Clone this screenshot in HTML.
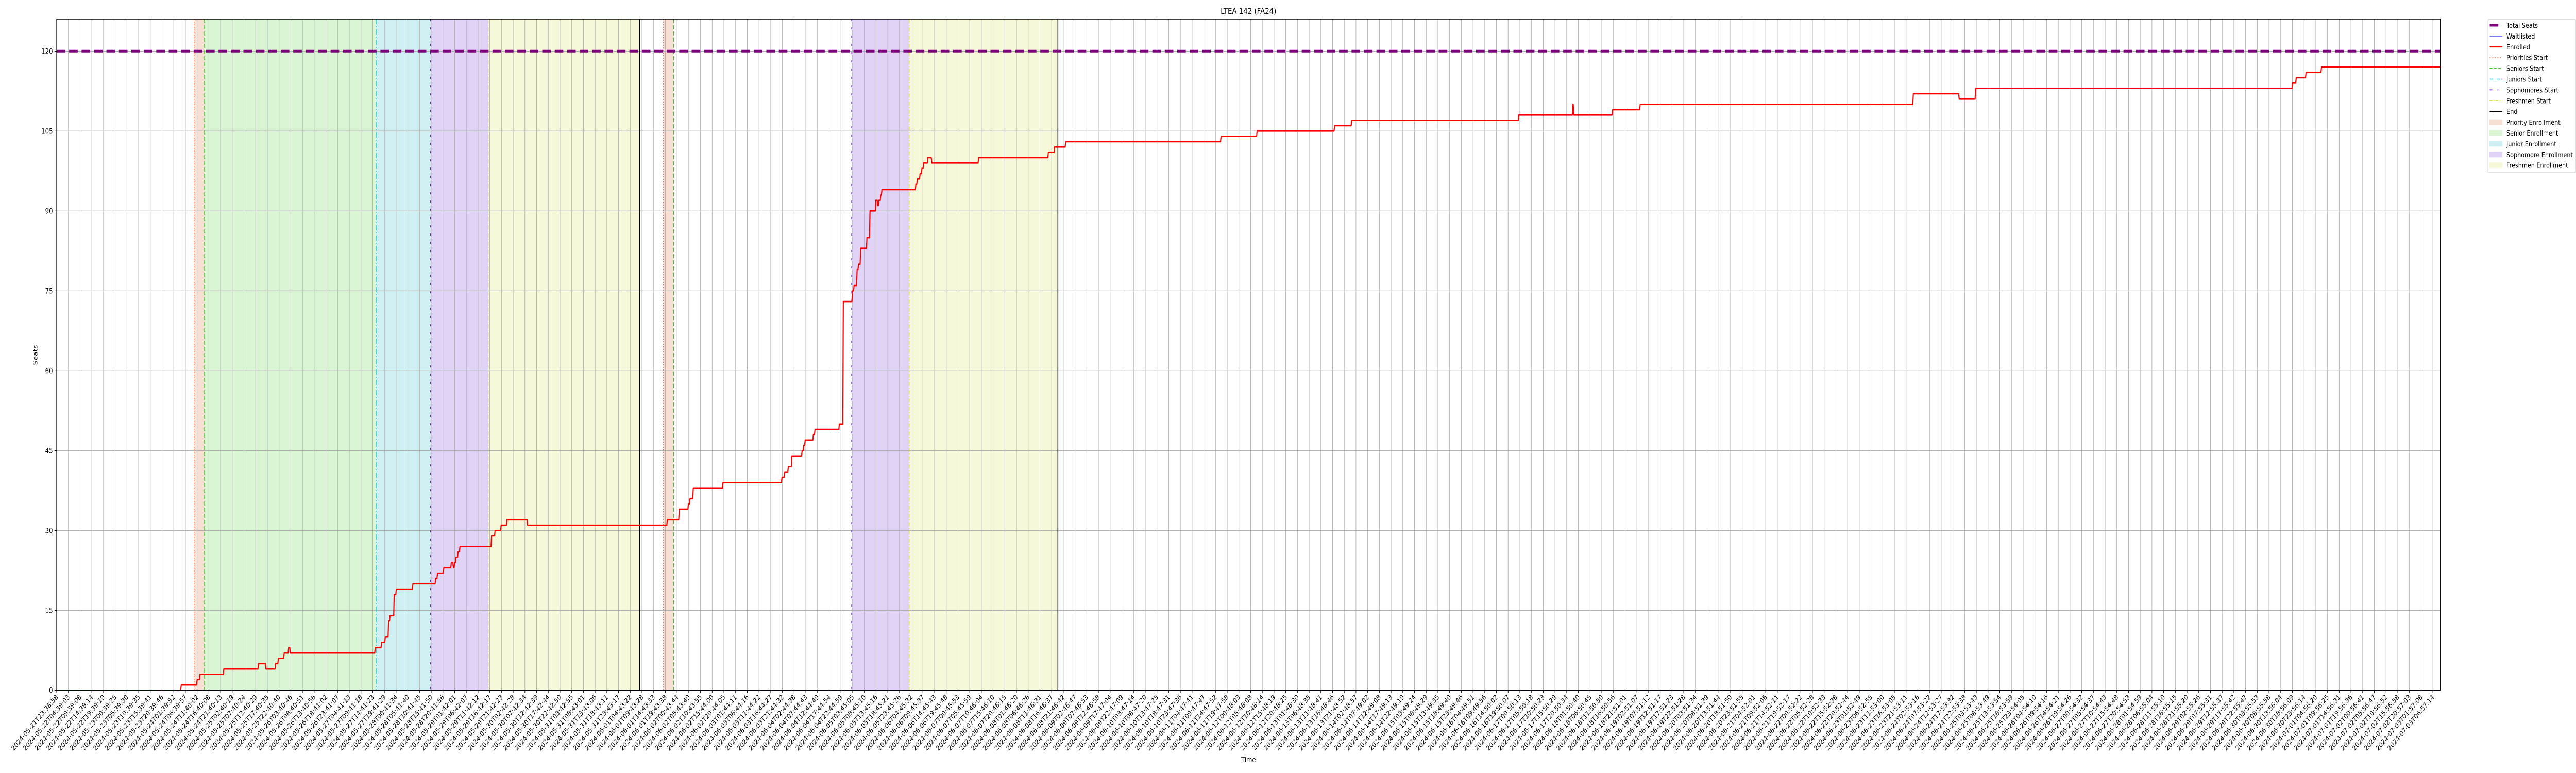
<!DOCTYPE html>
<html><head><meta charset="utf-8"><title>LTEA 142 (FA24)</title>
<style>
html,body{margin:0;padding:0;background:#fff;width:100%;height:100%;overflow:hidden;}
svg{display:block;width:100vw;height:100vh;overflow:hidden;font-family:"DejaVu Sans","Liberation Sans",sans-serif;}
</style></head>
<body>
<svg id="chart" viewBox="0 0 6000 1500" preserveAspectRatio="none" xmlns="http://www.w3.org/2000/svg">
  <rect x="0" y="0" width="6000" height="1500" fill="#fff"/>
  <g id="shading"></g>
  <g id="grid"></g>
  <g id="events"></g>
  <g id="series"></g>
  <g id="axes"></g>
  <text x="2908" y="27" font-size="16" text-anchor="middle">LTEA 142 (FA24)</text>
  <text x="2908" y="1479" font-size="14" text-anchor="middle">Time</text>
  <text x="0" y="0" font-size="14" text-anchor="middle" transform="translate(87,689) rotate(-90)">Seats</text>
  <g id="legend"></g>
</svg>
<script>
// ---- data (hours since 2024-05-21T23:38:58) ----
const enrolledHours = [0,53.0,59.8,61.0,71.2,86.0,89.2,93.3,94.5,97.0,98.9,99.6,135.9,138.6,140.2,141.6,142.2,144.0,144.9,152.0,161.7,162.5,165.2,168.4,169.3,169.8,170.4,171.3,172.1,185.6,187.1,189.7,192.2,201.0,260.7,265.8,269.7,270.4,271.8,284.5,309.7,310.9,312.4,313.9,318.3,319.0,319.6,323.1,323.8,334.2,335.9,339.8,340.5,341.8,342.4,343.3,346.0,347.3,349.8,350.6,351.1,351.9,352.4,366.9,367.5,368.7,369.5,370.2,372.0,373.7,393.7,423.5,426.2,430.9,497.3,512.7,545.8,553.1,624.5,647.6,648.0,664.6,676.4,793.1,812.7,819.7,955.1,956.7,960.9,967.5,1018.5];
const enrolledValues = [0,1,2,3,4,5,4,5,6,7,8,7,8,9,10,13,14,18,19,20,21,22,23,24,23,24,25,26,27,29,30,31,32,31,32,34,35,36,38,39,40,41,42,44,45,46,47,48,49,50,73,75,76,79,80,83,85,90,92,91,92,93,94,95,96,97,98,99,100,99,100,101,102,103,104,105,106,107,108,110,108,109,110,112,111,113,114,115,116,117,117];
const waitlistValues = [0,0];
const waitlistHours = [0,1018.5];
const totalSeats = 120;
const eventNames = ["priorities","seniors","juniors","sophomores","freshmen","end","priorities","seniors","sophomores","freshmen","end"];
const eventHours = [58.7,63.2,136.5,159.7,184.4,249.1,259.2,263.6,339.7,364.3,427.8];
const periodNames = ["priority","senior","junior","sophomore","freshmen","priority","sophomore","freshmen"];
const periodStart = [58.7,63.2,136.5,159.7,184.4,259.2,339.7,364.3];
const periodEnd   = [63.2,136.5,159.7,184.4,249.1,263.6,364.3,427.8];
const yTicks = [0,15,30,45,60,75,90,105,120];
const xTickCount = 204;
const xTickStepHours = 5.0015;
const startTime = "2024-05-21T23:38:58";

// ---- scales ----
const X0=132, X1=5684, Y0=1339.5, PXU=10.335, HMAX=1018.5;
function xs(h){return X0+(h/HMAX)*(X1-X0);}
function ys(v){return Y0-v*PXU;}
const NS="http://www.w3.org/2000/svg";
function mk(tag,attrs,parent){const e=document.createElementNS(NS,tag);for(const k in attrs)e.setAttribute(k,attrs[k]);parent.appendChild(e);return e;}

const fills={priority:"#f7dfd3",senior:"#d9f5d3",junior:"#cff0f2",sophomore:"#e0d3f5",freshmen:"#f7f8d9"};
const styles={
 priorities:{c:"#f26a3a",d:"2,3",w:1.5},
 seniors:{c:"#33cc11",d:"8,4",w:1.8},
 juniors:{c:"#00c8d2",d:"10,4,2,4",w:1.5},
 sophomores:{c:"#6a22dd",d:"4,12",w:1.8},
 freshmen:{c:"#dddd22",d:"8,3,2,3",w:1.2},
 end:{c:"#000",d:"",w:1.8}
};

const gS=document.getElementById('shading');
for(let i=0;i<periodNames.length;i++){
  const r=mk('rect',{x:xs(periodStart[i]),y:37,width:xs(periodEnd[i])-xs(periodStart[i]),height:Y0-37+0.5,fill:fills[periodNames[i]]},gS);
  
  
}

const gG=document.getElementById('grid');
const gA=document.getElementById('axes');
function fmt(d){const p=n=>String(n).padStart(2,'0');return d.getUTCFullYear()+"-"+p(d.getUTCMonth()+1)+"-"+p(d.getUTCDate())+"T"+p(d.getUTCHours())+":"+p(d.getUTCMinutes())+":"+p(d.getUTCSeconds());}
const t0=Date.parse(startTime+"Z");
for(let i=0;i<xTickCount;i++){
  const h=i*xTickStepHours, x=xs(h);
  const gl=mk('line',{x1:x,x2:x,y1:37,y2:Y0,stroke:"#b0b0b0","stroke-width":1.1},gG);
  
  
  const tk=mk('line',{x1:x,x2:x,y1:Y0,y2:Y0+5,stroke:"#000","stroke-width":1.1},gA);
  
  
  const lb=mk('text',{x:0,y:0,"font-size":13.5,"text-anchor":"end",transform:`translate(${x+4},${Y0+14}) rotate(-45)`},gA);
  lb.textContent=fmt(new Date(t0+h*3600000));
  
  
}
yTicks.forEach(v=>{
  const y=ys(v);
  const gl=mk('line',{x1:X0,x2:X1,y1:y,y2:y,stroke:"#b0b0b0","stroke-width":1.3},gG);
  
  
  const tk=mk('line',{x1:X0-5,x2:X0,y1:y,y2:y,stroke:"#000","stroke-width":1.1},gA);
  
  
  const lb=mk('text',{x:X0-9,y:y+5,"font-size":14,"text-anchor":"end"},gA);
  lb.textContent=String(v);
  
  
});
const fr=mk('rect',{x:X0,y:37,width:X1-X0,height:Y0-37,fill:"none",stroke:"#000","stroke-width":1.5},gA);



const gE=document.getElementById('events');
for(let i=0;i<eventNames.length;i++){
  const s=styles[eventNames[i]], x=xs(eventHours[i]);
  const l=mk('line',{x1:x,x2:x,y1:37,y2:Y0,stroke:s.c,"stroke-width":s.w,"stroke-dasharray":s.d},gE);
  
  
}

const gR=document.getElementById('series');
const ts=mk('line',{x1:X0,x2:X1,y1:ys(totalSeats),y2:ys(totalSeats),stroke:"#800080","stroke-width":5,"stroke-dasharray":"20,9"},gR);


let wp="";
for(let i=0;i<waitlistHours.length;i++){wp+=(i?"L":"M")+xs(waitlistHours[i])+","+ys(waitlistValues[i]);}
const wl=mk('path',{d:wp,fill:"none",stroke:"#0000ff","stroke-width":1.3},gR);


let ep="";
for(let i=0;i<enrolledHours.length;i++){
  const x=xs(enrolledHours[i]), y=ys(enrolledValues[i]);
  if(i===0) ep+="M"+x+","+y; else ep+="L"+(x+1.2)+","+y;
  if(i<enrolledHours.length-1) ep+="L"+xs(enrolledHours[i+1])+","+y;
}
const el=mk('path',{d:ep,fill:"none",stroke:"#ff0000","stroke-width":2.6,"stroke-linejoin":"round"},gR);



const gL=document.getElementById('legend');
const lbx=mk('rect',{x:5795,y:37,width:204,height:298,rx:3,fill:"#fff",stroke:"#d0d0d0","stroke-width":1.2},gL);


const entries=[
 ["Total Seats","line","#800080",5,"20,40"],
 ["Waitlisted","line","#0000ff",1.3,""],
 ["Enrolled","line","#ff0000",2.6,""],
 ["Priorities Start","line","#f26a3a",1.5,"2,4"],
 ["Seniors Start","line","#33cc11",1.8,"6,4"],
 ["Juniors Start","line","#00c8d2",1.5,"8,3,2,3"],
 ["Sophomores Start","line","#6a22dd",1.8,"6,12,2,20"],
 ["Freshmen Start","line","#dddd22",1.2,"6,3,2,3"],
 ["End","line","#000",1.8,""],
 ["Priority Enrollment","patch",fills.priority],
 ["Senior Enrollment","patch",fills.senior],
 ["Junior Enrollment","patch",fills.junior],
 ["Sophomore Enrollment","patch",fills.sophomore],
 ["Freshmen Enrollment","patch",fills.freshmen]
];
entries.forEach((e,i)=>{
  const y=49+i*20.9;
  const g=mk('g',{},gL);
  
  
  if(e[1]==="line") mk('line',{x1:5799,x2:5828,y1:y,y2:y,stroke:e[2],"stroke-width":e[3],"stroke-dasharray":e[4]},g);
  else mk('rect',{x:5799,y:y-5,width:29,height:10,fill:e[2],stroke:e[2]},g);
  const t=mk('text',{x:5838,y:y+5,"font-size":13.5},g);
  t.textContent=e[0];
});
</script>
</body></html>
